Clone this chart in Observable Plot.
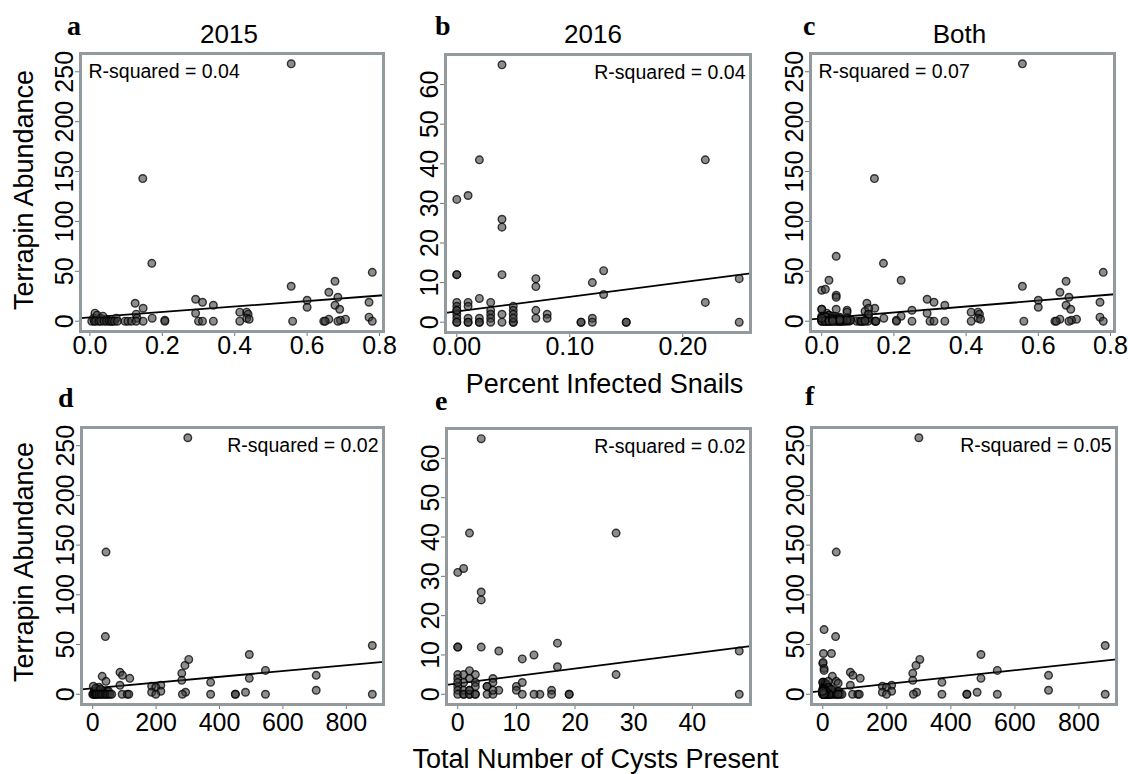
<!DOCTYPE html>
<html><head><meta charset="utf-8">
<script src="https://cdn.jsdelivr.net/npm/d3@7"></script>
<script src="https://cdn.jsdelivr.net/npm/@observablehq/plot@0.6"></script>
<style>
html,body{margin:0;padding:0;background:#fff;}
#wrap{position:relative;width:1128px;height:774px;overflow:hidden;font-family:"Liberation Sans",Arial,Helvetica,sans-serif;}
#wrap > svg{position:absolute;}
</style></head><body><div id="wrap"></div>
<script>
// ---- 2015 sites ----
const pct2015 = [0.556,0.146,0.171,0.780,0.677,0.556,0.660,0.685,0.292,0.600,0.311,0.771,0.125,0.341,0.677,0.600,0.147,0.690,0.433,0.292,0.414,0.437,0.128,0.771,0.433,0.172,0.660,0.706,0.440,0.692,0.207,0.130,0.010,0.030,0.045,0.073,0.014,0.020,0.036,
  0.005,0.012,0.016,0.025,0.030,0.039,0.046,0.053,0.058,0.062,0.068,0.076,0.097,0.105,0.115,0.128,0.147,0.207,0.300,0.311,0.341,0.414,0.560,0.646,0.650,0.685,0.780];
const cysts2015 = [300,42,40,882,494,303,291,545,86,281,94,705,30,117,494,281,42,372,215,186,86,199,20,705,215,12,293,482,186,8,30,45,5,18,35,50,2,10,25,
  0,2,5,8,10,12,15,20,25,28,32,38,42,45,50,55,60,93,283,109,114,199,372,450,450,545,882];
const abund2015 = [258,143,58,49,40,35,29,24,22,21,19,19,18,16,16,14,13,12,9,8,9,7,7,4,3,3,2,2,2,1,1,3,3,3,2,3,8,6,5,
  0,0,0,0,0,0,0,0,0,0,0,0,0,0,0,0,0,0,0,0,0,0,0,0,0,0,0];
// ---- 2016 sites ----
const pct2016 = [0.04,0.02,0.22,0.00,0.01,0.04,0.04,0.04,0.00,0.00,0.07,0.07,0.12,0.13,0.13,0.22,0.25,0.25,0.02,0.03,0.05,0.07,0.08,0.08,0.07,0.04,0.04,0.11,0.11,0.12,0.12,0.15,0.15,0.05,0.05,0.05,0.05,0.05,
  0.00,0.00,0.00,0.00,0.00,0.00,0.00,0.01,0.01,0.01,0.01,0.01,0.02,0.02,0.02,0.03,0.03,0.03,0.03,0.00];
const cysts2016 = [4,2,27,0,1,4,4,4,0,0,7,11,13,17,17,27,48,48,2,3,6,6,10,10,7,5,5,14,13,16,16,19,19,11,11,6,5,6,
  0,0,1,0,0,0,1,1,2,1,1,2,2,2,3,3,3,2,3,0];
const abund2016 = [65,41,41,31,32,26,24,12,12,12,11,9,10,13,7,5,11,0,6,5,4,3,2,1,1,2,0,0,0,1,0,0,0,3,0,0,2,1,
  5,4,3,2,1,0,0,5,4,1,0,0,1,0,0,3,2,1,0,3];
// ---- axis ticks ----
const ticksPct = [0, 0.2, 0.4, 0.6, 0.8];
const ticksPct2016 = [0, 0.1, 0.2];
const ticksCysts = [0, 200, 400, 600, 800];
const ticksCysts2016 = [0, 10, 20, 30, 40];
const ticksAbund = [0, 50, 100, 150, 200, 250];
const ticksAbund2016 = [0, 10, 20, 30, 40, 50, 60];
// ---- fitted lines & labels ----
const rSquared = ["0.04", "0.04", "0.07", "0.02", "0.02", "0.05"];
const fitIntercept = [3.7, 2.7, 2.7, 5.9, 2.75, 3.4];
const fitSlope = [27.5, 37, 30, 0.029, 0.19, 0.0345];
const panelLetters = ["a", "b", "c", "d", "e", "f"];
const panelTitles = ["2015", "2016", "Both"];
const yTitle = "Terrapin Abundance";
const xTitleTop = "Percent Infected Snails";
const xTitleBottom = "Total Number of Cysts Present";

const wrap = document.getElementById("wrap");
const FONT = "'Liberation Sans', Arial, Helvetica, sans-serif";

function ext(arr) { const [lo, hi] = d3.extent(arr); const p = (hi - lo) * 0.04; return [lo - p, hi + p]; }

function panel(i, xs, ys, xTicks, xFmt, yTicks, r2Side, frame, tickGap) {
  const [fx, fy, fw, fh] = frame;
  const mL = 60, mT = 6, mR = 8, mB = 45;
  const xd = ext(xs), yd = ext(ys);
  const pts = xs.map((x, k) => ({x, y: ys[k]}));
  const fit = xd.map(x => ({x, y: fitIntercept[i] + fitSlope[i] * x}));
  const left = r2Side === "left";
  const svg = Plot.plot({
    width: fw + mL + mR, height: fh + mT + mB,
    marginLeft: mL, marginRight: mR, marginTop: mT, marginBottom: mB,
    style: {fontFamily: FONT, fontSize: "25px", background: "transparent", overflow: "visible", maxWidth: "none"},
    x: {domain: xd, label: null},
    y: {domain: yd, label: null},
    marks: [
      Plot.axisX({ticks: xTicks, tickFormat: xFmt, tickSize: 5, tickPadding: tickGap, stroke: "#70777a", fill: "#000", fontSize: 25, label: null}),
      Plot.axisY({ticks: yTicks, tickRotate: -90, tickSize: 5, tickPadding: 3, stroke: "#70777a", fill: "#000", fontSize: 25, label: null}),
      Plot.line(fit, {x: "x", y: "y", stroke: "#000", strokeWidth: 1.8}),
      Plot.dot(pts, {x: "x", y: "y", r: 3.8, fill: "#3a3a3a", fillOpacity: 0.58, stroke: "#000", strokeOpacity: 0.75, strokeWidth: 1.4}),
      Plot.text([`R-squared = ${rSquared[i]}`], {text: d => d, frameAnchor: left ? "top-left" : "top-right", textAnchor: left ? "start" : "end",
        lineAnchor: "bottom", dx: left ? 8 : -5, dy: 24, fontSize: 19.5, fill: "#000"}),
      Plot.frame({stroke: "#939a9d", strokeWidth: 3})
    ]
  });
  svg.style.left = (fx - mL) + "px";
  svg.style.top = (fy - mT) + "px";
  wrap.appendChild(svg);
}

const pctBoth = pct2015.concat(pct2016);
const cystsBoth = cysts2015.concat(cysts2016);
const abundBoth = abund2015.concat(abund2016);
const f1 = d3.format(".1f"), f2 = d3.format(".2f"), f0 = d3.format("d");

panel(0, pct2015, abund2015, ticksPct, f1, ticksAbund, "left", [80, 53, 303, 278], 0);
panel(1, pct2016, abund2016, ticksPct2016, f2, ticksAbund2016, "right", [445, 54, 305, 278], 0);
panel(2, pctBoth, abundBoth, ticksPct, f1, ticksAbund, "left", [810, 53, 304, 278], 0);
panel(3, cysts2015, abund2015, ticksCysts, f0, ticksAbund, "right", [81, 427, 302, 277], 4);
panel(4, cysts2016, abund2016, ticksCysts2016, f0, ticksAbund2016, "right", [446, 428, 304, 276], 4);
panel(5, cystsBoth, abundBoth, ticksCysts, f0, ticksAbund, "right", [811, 427, 305, 277], 4);

// ---- overlay text ----
const NS = "http://www.w3.org/2000/svg";
const ov = document.createElementNS(NS, "svg");
ov.setAttribute("width", 1128); ov.setAttribute("height", 774);
ov.style.left = "0px"; ov.style.top = "0px"; ov.style.pointerEvents = "none";
function addText(str, x, y, opts) {
  const t = document.createElementNS(NS, "text");
  t.textContent = str;
  t.setAttribute("x", x); t.setAttribute("y", y);
  t.setAttribute("font-family", opts.family || FONT);
  t.setAttribute("font-size", opts.size);
  if (opts.weight) t.setAttribute("font-weight", opts.weight);
  t.setAttribute("text-anchor", opts.anchor || "start");
  if (opts.rotate) t.setAttribute("transform", `rotate(${opts.rotate} ${x} ${y})`);
  t.setAttribute("fill", "#000");
  ov.appendChild(t);
}
const SERIF = "'Liberation Serif', 'Times New Roman', serif";
const letterPos = [[67, 35], [435, 35], [803, 35], [58, 407], [435, 410], [805, 405]];
panelLetters.forEach((l, k) => addText(l, letterPos[k][0], letterPos[k][1], {family: SERIF, size: 28, weight: "bold"}));
const titleX = [229, 593, 959.5];
panelTitles.forEach((t, k) => addText(t, titleX[k], 42.5, {size: 26, anchor: "middle"}));
addText(yTitle, 33, 190, {size: 27, anchor: "middle", rotate: -90});
addText(yTitle, 33, 562, {size: 27, anchor: "middle", rotate: -90});
addText(xTitleTop, 604.5, 393, {size: 27, anchor: "middle"});
addText(xTitleBottom, 595.5, 768, {size: 27, anchor: "middle"});
wrap.appendChild(ov);
</script></body></html>
